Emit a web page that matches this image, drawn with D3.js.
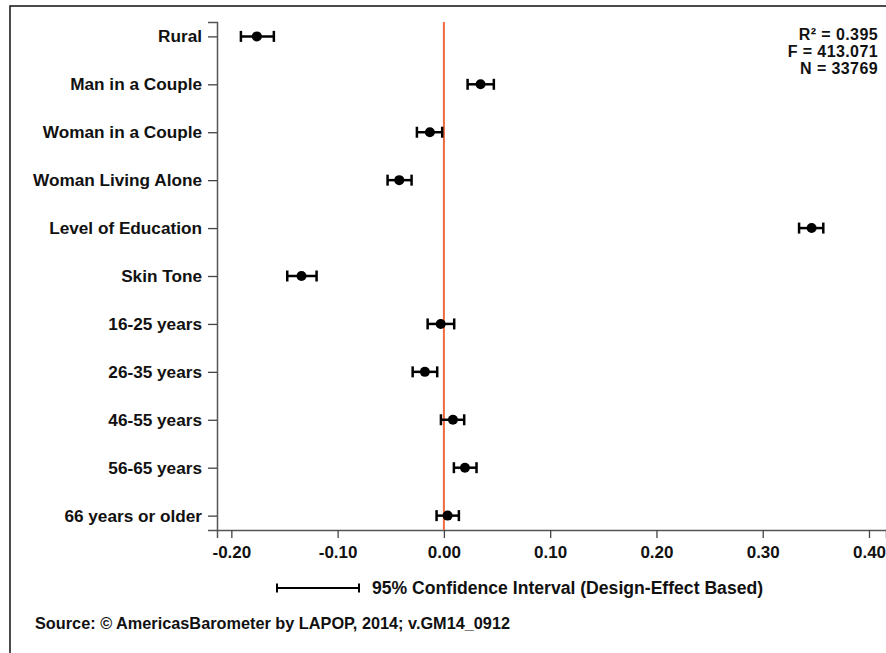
<!DOCTYPE html>
<html><head><meta charset="utf-8">
<script src="https://cdn.jsdelivr.net/npm/d3@7"></script>
<style>
html,body{margin:0;padding:0;background:#fff;}
svg{display:block;}
text{font-family:"Liberation Sans",Arial,Helvetica,sans-serif;font-weight:bold;fill:#111;}
</style></head>
<body>
<script>
const categories = ["Rural","Man in a Couple","Woman in a Couple","Woman Living Alone","Level of Education","Skin Tone","16-25 years","26-35 years","46-55 years","56-65 years","66 years or older"];
const estimates = [-0.176, 0.0345, -0.0132, -0.042, 0.346, -0.134, -0.003, -0.0179, 0.0085, 0.0198, 0.0035];
const ciLow  = [-0.191, 0.0223, -0.0254, -0.053, 0.3342, -0.1474, -0.0153, -0.0294, -0.0028, 0.0094, -0.0069];
const ciHigh = [-0.160, 0.047, -0.0016, -0.0304, 0.357, -0.1198, 0.0097, -0.0063, 0.0191, 0.0307, 0.0141];
const xTicks = [-0.20, -0.10, 0.00, 0.10, 0.20, 0.30, 0.40];
const xTickLabels = ["-0.20", "-0.10", "0.00", "0.10", "0.20", "0.30", "0.40"];
const stats = ["R\u00B2 = 0.395", "F = 413.071", "N = 33769"];
const legendText = "95% Confidence Interval (Design-Effect Based)";
const sourceText = "Source: \u00A9 AmericasBarometer by LAPOP, 2014; v.GM14_0912";

const W = 886, H = 653;
const svg = d3.select("body").append("svg").attr("width", W).attr("height", H);

// outer frame
svg.append("rect").attr("x", 10).attr("y", 6).attr("width", 900).attr("height", 700)
  .attr("fill", "none").attr("stroke", "#111").attr("stroke-width", 1.5);

const x = d3.scaleLinear().domain([-0.2135, 0.416]).range([217, 886]);
const y = d3.scalePoint().domain(categories).range([22, 530]).padding(0.3);

// y axis
const yAxis = svg.append("g").attr("transform", "translate(217,0)")
  .call(d3.axisLeft(y).tickSize(9).tickPadding(6));
yAxis.select(".domain").attr("stroke", "#555").attr("stroke-width", 1.5);
yAxis.selectAll(".tick line").attr("stroke", "#444").attr("stroke-width", 1.3);
yAxis.selectAll(".tick text").attr("font-size", 17.2).attr("fill", "#111")
  .attr("font-family", '"Liberation Sans",Arial,sans-serif').attr("font-weight", "bold");

// x axis
const xAxis = svg.append("g").attr("transform", "translate(0,530)")
  .call(d3.axisBottom(x).tickValues(xTicks).tickFormat((d, i) => xTickLabels[i]).tickSize(8).tickPadding(8));
xAxis.select(".domain").attr("stroke", "#555").attr("stroke-width", 1.5);
xAxis.selectAll(".tick line").attr("stroke", "#444").attr("stroke-width", 1.3);
xAxis.selectAll(".tick text").attr("font-size", 17).attr("fill", "#111")
  .attr("font-family", '"Liberation Sans",Arial,sans-serif').attr("font-weight", "bold");

// zero reference line
svg.append("line").attr("x1", x(0)).attr("x2", x(0)).attr("y1", 22).attr("y2", 530)
  .attr("stroke", "#ee6a3f").attr("stroke-width", 2);

const data = categories.map((c, i) => ({c, est: estimates[i], lo: ciLow[i], hi: ciHigh[i]}));
const g = svg.append("g");
const capH = 5.5;
data.forEach(d => {
  const yy = y(d.c);
  g.append("line").attr("x1", x(d.lo)).attr("x2", x(d.hi)).attr("y1", yy).attr("y2", yy)
    .attr("stroke", "#000").attr("stroke-width", 2.5);
  g.append("line").attr("x1", x(d.lo)).attr("x2", x(d.lo)).attr("y1", yy - capH).attr("y2", yy + capH)
    .attr("stroke", "#000").attr("stroke-width", 2.5);
  g.append("line").attr("x1", x(d.hi)).attr("x2", x(d.hi)).attr("y1", yy - capH).attr("y2", yy + capH)
    .attr("stroke", "#000").attr("stroke-width", 2.5);
  g.append("circle").attr("cx", x(d.est)).attr("cy", yy).attr("r", 5).attr("fill", "#000");
});

// stats
svg.append("g").selectAll("text").data(stats).join("text")
  .attr("x", 878).attr("y", (d, i) => 40 + i * 17)
  .attr("text-anchor", "end").attr("font-size", 16).attr("letter-spacing", 0.4).text(d => d);

// legend
const ly = 588;
svg.append("line").attr("x1", 277).attr("x2", 359).attr("y1", ly).attr("y2", ly).attr("stroke", "#000").attr("stroke-width", 2);
svg.append("line").attr("x1", 277).attr("x2", 277).attr("y1", ly - 4.5).attr("y2", ly + 4.5).attr("stroke", "#000").attr("stroke-width", 2);
svg.append("line").attr("x1", 359).attr("x2", 359).attr("y1", ly - 4.5).attr("y2", ly + 4.5).attr("stroke", "#000").attr("stroke-width", 2);
svg.append("text").attr("x", 372).attr("y", ly + 6).attr("font-size", 17.6).text(legendText);

// source
svg.append("text").attr("x", 35).attr("y", 629).attr("font-size", 16.3).text(sourceText);
</script>
</body></html>
